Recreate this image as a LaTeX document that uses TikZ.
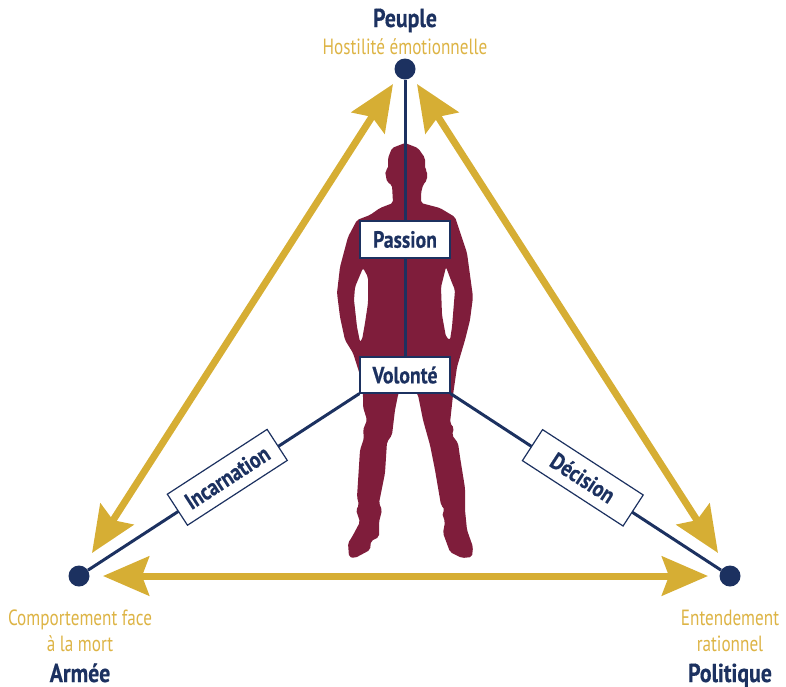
\documentclass[tikz,border=0pt]{standalone}
\usepackage{xcolor}
\usepackage{fontspec}
\setmainfont[FakeStretch=0.78,BoldFeatures={FakeStretch=0.84,FakeBold=0.4}]{PT Sans}
\usetikzlibrary{arrows.meta}
\definecolor{navy}{HTML}{1C3160}
\definecolor{gold}{HTML}{D6AE34}
\definecolor{goldtext}{HTML}{DDB445}
\definecolor{maroon}{HTML}{7F1D3B}
\tikzstyle{pole} = [circle, fill=navy, inner sep=0pt, minimum size=21pt]
\tikzstyle{tag} = [rectangle, draw=navy, line width=1.2pt, fill=white, align=center, text=navy, font=\fontsize{23.5}{26}\selectfont\bfseries, inner sep=0pt]
\tikzstyle{title} = [text=navy, anchor=base, font=\fontsize{26}{30}\selectfont\bfseries, inner sep=0pt]
\tikzstyle{sub} = [text=goldtext, align=center, font=\fontsize{22}{26}\selectfont, inner sep=0pt]
\tikzstyle{link} = [navy, line width=3pt]
\tikzstyle{arrow} = [gold, line width=7pt, {Stealth[length=46pt,width=39pt,inset=7pt]}-{Stealth[length=46pt,width=39pt,inset=7pt]}]

\begin{document}
\begin{tikzpicture}[x=1pt, y=-1pt]
\useasboundingbox (0,0) rectangle (786,686);

\coordinate (topL) at (393,84);
\coordinate (topR) at (417,84);
\coordinate (leftU) at (92,553);
\coordinate (leftR) at (103,576);
\coordinate (rightU) at (718,553);
\coordinate (rightL) at (708,576);

\draw[arrow] (topL) -- (leftU);
\draw[arrow] (topR) -- (rightU);
\draw[arrow] (leftR) -- (rightL);

% silhouette
\fill[maroon, even odd rule, rounded corners=2pt]
  (405,143) -- (392,148) -- (388,158) -- (388,169) -- (385,171) -- (387,182) -- (392,185) -- (393,203)
  -- (380,208) -- (370,215) -- (357,220) -- (348,237) -- (340,267) -- (337,293) -- (340,317) -- (345,340)
  -- (353,353) -- (360,375) -- (363,395) -- (363,407) -- (367,420) -- (363,430) -- (364,438) -- (360,450)
  -- (357,497) -- (359,505) -- (356,510) -- (360,522) -- (352,537) -- (348,543) -- (349,557) -- (355,558)
  -- (370,550) -- (371,541) -- (379,537) -- (379,522) -- (382,510) -- (379,503) -- (385,473) -- (387,442)
  -- (392,435) -- (395,410) -- (398,395) -- (405,375) -- (418,395) -- (423,420) -- (430,445) -- (435,470)
  -- (441,505) -- (445,510) -- (442,513) -- (445,522) -- (443,533) -- (450,552) -- (462,558) -- (472,557)
  -- (473,547) -- (467,530) -- (465,510) -- (465,488) -- (460,457) -- (458,443) -- (452,435) -- (454,428)
  -- (450,423) -- (453,395) -- (457,367) -- (465,340) -- (470,320) -- (473,297) -- (467,253) -- (455,217)
  -- (440,208) -- (421,203) -- (421,193) -- (423,185) -- (427,180) -- (427,171) -- (425,169) -- (425,158)
  -- (418,148) -- cycle
  (363,268) -- (355,287) -- (354,300) -- (357,327) -- (360,342) -- (362,340) -- (365,323) -- (368,303) -- (368,277) -- cycle
  (446,267) -- (441,287) -- (442,315) -- (446,337) -- (450,340) -- (452,327) -- (455,290) -- (452,283) -- cycle;

\node (peuple) [pole] at (405,69) {};
\node (armee) [pole] at (79,576) {};
\node (politique) [pole] at (730,576) {};
\node (passion) [tag, minimum width=90pt, minimum height=37pt] at (405,239.5) {Passion};
\node (volonte) [tag, minimum width=90pt, minimum height=36pt] at (405,375) {Volonté};

\draw[link] (peuple) -- (passion);
\draw[link] (passion) -- (volonte);
\draw[link] (volonte.south west) -- (armee);
\draw[link] (volonte.south east) -- (politique);

\node (incarnation) [tag, rotate=33, minimum width=119pt, minimum height=37pt] at (227.3,477.3) {Incarnation};
\node (decision) [tag, rotate=-33, minimum width=120pt, minimum height=37pt] at (582.8,477.8) {Décision};

\node (peupleT) [title] at (405,27) {Peuple};
\node (peupleS) [sub] at (405,47) {Hostilité émotionnelle};
\node (armeeS) [sub] at (80,631) {Comportement face\\à la mort};
\node (armeeT) [title] at (80,682) {Armée};
\node (politiqueS) [sub] at (730,631) {Entendement\\rationnel};
\node (politiqueT) [title] at (730,682) {Politique};

\end{tikzpicture}
\end{document}
